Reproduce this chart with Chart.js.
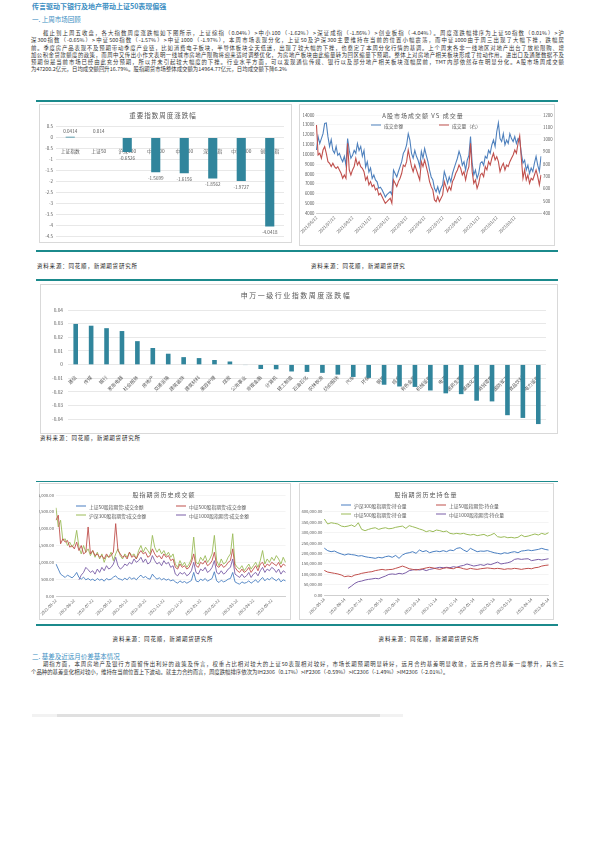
<!DOCTYPE html>
<html>
<head>
<meta charset="utf-8">
<script src="https://cdn.jsdelivr.net/npm/chart.js@4.4.0/dist/chart.umd.min.js"></script>
<style>
body{margin:0;background:#fff;font-family:"Noto Sans CJK SC","Noto Sans",sans-serif;}
#page{position:relative;width:595px;height:842px;overflow:hidden;}
.ab{position:absolute;white-space:nowrap;}
.hd{color:#3b8ec2;}
.para{position:absolute;left:31px;width:533px;font-size:5.4px;line-height:7.3px;color:#333;}
.para div{white-space:nowrap;}
.jl{text-align:justify;text-align-last:justify;}
.tl{position:absolute;left:36px;width:522px;background:#1b8a8c;}
.box{position:absolute;border:0.8px solid #d9d9d9;box-sizing:border-box;}
.ct{position:absolute;transform:translate(-50%,-50%);white-space:nowrap;color:#595959;letter-spacing:1px;}
.src{position:absolute;white-space:nowrap;font-size:5.5px;color:#222;letter-spacing:0.8px;transform:translateY(-50%);}
.lg{position:absolute;font-size:4.8px;color:#595959;white-space:nowrap;transform:translateY(-50%);display:flex;align-items:center;}
.lg i{display:inline-block;width:10px;height:1.5px;margin-right:3px;}
canvas{position:absolute;}
</style>
</head>
<body>
<div id="page">
<div class="ab hd" style="left:32px;top:1px;font-size:7px;font-weight:bold;">传言驱动下银行及地产带动上证50表现偏强</div>
<div class="ab hd" style="left:32px;top:14px;font-size:6.5px;">一. 上周市场回顾</div>

<div class="para" style="top:30px;">
<div class="jl" style="padding-left:12px;">截止到上周五收盘，各大指数周度涨跌幅如下图所示，上证综指（0.04%）>中小100（-1.62%）>深证成指（-1.86%）>创业板指（-4.04%）。周度涨跌幅排序为上证50指数（0.01%）>沪</div>
<div class="jl">深300指数（-0.65%）>中证500指数（-1.57%）>中证1000（-1.97%），本周市场表现分化，上证50及沪深300主要维持在当前的位置小幅震荡，而中证1000由于周三出现了大幅下挫，跌幅居</div>
<div class="jl">前。季度房产品表现不及预期带动季度产业链，比如消费电子板块，半导体板块全天低迷，出现了较大幅的下挫，也奠定了本周分化行情的基调。上个周末各非一线地区对地产出台了放松限购、增</div>
<div class="jl">加公积金贷款额度的政策，而周中又传出小作文表明一线城市房地产限购将迎来适时调整优化，为房地产板块由此缩量转为回区缩量下预期。整体上对房地产相关板块形成了拉动作用。进出口及通胀数据不及</div>
<div class="jl">预期但是当前市场已经由此充分预期，所以并未引起较大幅度的下挫。行业水平方面，可以发现通信传媒、银行以及部分地产相关板块涨幅居前，TMT内部依然存在明显分化。A股市场周成交额</div>
<div>为47200.2亿元，日均成交额回升16.79%。股指期货市场整体成交额为14964.77亿元，日均成交额下降6.2%</div>
</div>

<div class="tl" style="top:100px;height:1.5px;"></div>
<div class="box" style="left:39px;top:104px;width:253px;height:139px;"></div>
<div class="box" style="left:299px;top:104px;width:256px;height:142px;"></div>
<canvas id="c1" width="253" height="139" style="left:39px;top:104px;"></canvas>
<canvas id="c2" width="256" height="142" style="left:299px;top:104px;"></canvas>
<div class="ct" style="left:163px;top:115px;font-size:6.5px;">重要指数周度涨跌幅</div>
<div class="ct" style="left:423px;top:115px;font-size:6px;">A股市场成交额 VS 成交量</div>
<div class="lg" style="left:371px;top:125px;"><i style="background:#4f81bd"></i>成交金额</div>
<div class="lg" style="left:439px;top:125px;"><i style="background:#c0504d"></i>成交量（右）</div>
<div class="tl" style="top:249.5px;height:2px;"></div>
<div class="src" style="left:37px;top:266px;">资料来源：同花顺，新湖期货研究所</div>
<div class="src" style="left:311px;top:266px;">资料来源：同花顺，新湖期货研究</div>
<div class="tl" style="top:278.5px;height:2px;"></div>

<div class="box" style="left:40px;top:284px;width:518px;height:150px;"></div>
<canvas id="c3" width="518" height="150" style="left:40px;top:284px;"></canvas>
<div class="ct" style="left:296px;top:295px;font-size:7px;letter-spacing:1.5px;">申万一级行业指数周度涨跌幅</div>
<div class="src" style="left:40px;top:438px;">资料来源：同花顺，新湖期货研究所</div>

<div class="tl" style="top:480.5px;height:1.5px;"></div>
<div class="box" style="left:39px;top:483px;width:252px;height:137px;"></div>
<div class="box" style="left:299px;top:483px;width:255px;height:137px;"></div>
<canvas id="c4" width="252" height="137" style="left:39px;top:483px;"></canvas>
<canvas id="c5" width="255" height="137" style="left:299px;top:483px;"></canvas>
<div class="ct" style="left:164px;top:494px;font-size:6px;">股指期货历史成交额</div>
<div class="lg" style="left:76px;top:506px;"><i style="background:#4a7fc1"></i>上证50股指期货:成交金额</div>
<div class="lg" style="left:176px;top:506px;"><i style="background:#c0504d"></i>中证500股指期货:成交金额</div>
<div class="lg" style="left:76px;top:515px;"><i style="background:#9bbb59"></i>沪深300股指期货:成交金额</div>
<div class="lg" style="left:176px;top:515px;"><i style="background:#7b5ea7"></i>中证1000股指期货:成交金额</div>
<div class="ct" style="left:426px;top:494px;font-size:6px;">股指期货历史持仓量</div>
<div class="lg" style="left:341px;top:505px;"><i style="background:#4a7fc1"></i>沪深300股指期货:持仓量</div>
<div class="lg" style="left:436px;top:505px;"><i style="background:#c0504d"></i>上证50股指期货:持仓量</div>
<div class="lg" style="left:341px;top:514px;"><i style="background:#9bbb59"></i>中证500股指期货:持仓量</div>
<div class="lg" style="left:436px;top:514px;"><i style="background:#7b5ea7"></i>中证1000股指期货:持仓量</div>
<div class="tl" style="top:623.5px;height:2px;"></div>
<div class="src" style="left:163px;top:639px;transform:translate(-50%,-50%);">资料来源：同花顺，新湖期货研究所</div>
<div class="src" style="left:429px;top:639px;transform:translate(-50%,-50%);">资料来源：同花顺，新湖期货研究所</div>

<div class="ab hd" style="left:32px;top:651px;font-size:6.5px;">二. 基差及近远月价差基本情况</div>
<div class="para" style="top:661px;line-height:7.6px;">
<div class="jl" style="padding-left:12px;">期指方面，本周房地产及银行方面留传出利好的政策及传言，权重占比相对较大的上证50表现相对较好，市场长期预期明显转好，远月合约基差明显收敛，近远月合约基差一度攀升，其余三</div>
<div>个品种的基差变化相对较小，维持在当前位置上下波动。就主力合约而言，周度跌幅排序依次为IH2306（0.17%）>IF2306（-0.59%）>IC2306（-1.49%）>IM2306（-2.01%）。</div>
</div>
<div class="ab" style="left:32px;top:714px;width:371px;height:3px;background:#f2f2f2;"></div>
<div class="ab" style="left:57px;top:714px;width:323px;height:3px;background:#e0e0e0;"></div>
</div>

<script>
// 重要指数周度涨跌幅
var idxNames=['上证指数','上证50','沪深300','中证500','中小100','深证成指','中证1000','创业板指'];
var idxChg=[0.0414,0.014,-0.6526,-1.5699,-1.6156,-1.8562,-1.9727,-4.0418];

// 申万一级行业指数周度涨跌幅
var swNames=['通信','传媒','银行','家用电器','社会服务','房地产','交通运输','建筑装饰','建筑材料','美容护理','煤炭','公用事业','非银金融','计算机','轻工制造','石油石化','农林牧渔','纺织服饰','汽车','环保','钢铁','综合','有色金属','机械设备','电子','医药生物','基础化工','商贸零售','国防军工','食品饮料','电力设备'];
var swChg=[0.0298,0.0285,0.0267,0.0246,0.0172,0.0122,0.0080,0.0055,0.0048,0.0034,0.0023,-0.0003,-0.0032,-0.0034,-0.0050,-0.0053,-0.0060,-0.0073,-0.0090,-0.0097,-0.0147,-0.0160,-0.0163,-0.0189,-0.0210,-0.0216,-0.0264,-0.0269,-0.0370,-0.0390,-0.0435];

// A股市场成交额 VS 成交量
var aTicks=['2021/05/12','2021/07/12','2021/09/12','2021/11/12','2022/01/12','2022/03/12','2022/05/12','2022/07/12','2022/09/12','2022/11/12','2023/01/12','2023/03/12'];
var aAmount=[10440,11800,11100,11600,12100,13150,13200,11800,10800,11500,10400,10100,10800,9900,10100,9600,9250,9800,8900,11600,
10400,9600,9900,10400,10100,11100,10400,10800,9800,10400,8700,9250,8200,8600,7550,7900,7400,7200,6550,6650,
6400,6050,5650,5900,6050,6200,5900,8400,8050,7700,8250,8750,9250,10100,10400,10950,12100,11450,10100,9600,
10400,9800,9400,8750,10300,9600,10600,9900,9250,8400,7700,7400,6550,6200,6700,6050,6550,6900,8250,7700,
7050,7700,7200,8050,8600,9100,9600,10300,9800,8900,9250,8400,9400,9900,11800,9100,7900,8400,7550,8050,
9100,9250,8900,9800,9600,10400,10100,10950,11450,10800,12300,13200,11600,11300,12100,10950,11450,11100,12100,11600,
11300,11800,11100,11600,11450,10100,9100,9400,8400,8900,8050,8600,8250,9100,9800,8900,8250,9800];
var aVolume=[1119,875,888,848,915,943,888,820,807,780,807,780,766,780,753,726,685,712,685,970,
753,712,753,780,848,793,820,780,766,739,671,698,631,658,617,631,590,604,550,563,
536,509,482,495,509,522,482,671,644,617,658,685,726,793,780,820,915,848,780,739,
793,753,712,671,820,780,834,780,726,658,617,590,509,495,536,495,522,550,658,617,
577,617,590,658,685,726,753,793,766,712,739,671,739,780,970,739,644,671,604,644,
712,726,698,780,753,820,793,848,888,834,861,820,739,780,807,753,793,780,820,848,
875,915,888,970,1030,848,685,753,671,712,644,685,671,712,753,698,631,712];

// 股指期货历史成交额
var amtTicks=['2022-05-22','2022-06-22','2022-07-22','2022-08-22','2022-09-22','2022-10-22','2022-11-22','2022-12-22','2023-01-22','2023-02-22','2023-03-22','2023-04-22','2023-05-22'];
var amtIH=[950,800,650,600,550,620,580,540,600,700,550,500,560,480,520,470,500,450,520,470,500,440,520,480,500,560,600,520,
500,470,530,480,560,500,540,480,560,620,540,580,520,500,650,560,500,540,480,520,470,500,450,480,420,380,450,400,430,380,420,460,
700,450,420,500,460,520,440,480,520,720,450,400,470,420,450,500,520,700,420,380,350,420,380,400,450,380,430,480,400,480,550,
450,520,480,550,500,450,520,420,480,450];
var amtIC=[2250,2400,1550,1700,1600,1650,1450,1500,1400,1600,1350,1500,1250,1300,2050,1250,1350,1200,1250,1150,1200,1100,1250,1150,1200,1300,2150,1350,
1250,1150,1200,1100,1300,1150,1200,1100,1250,1350,1250,1300,1150,1200,1400,1250,1150,1200,1100,1250,1150,1200,1050,1100,850,800,950,850,900,800,850,1000,
1250,900,850,1000,950,1050,900,950,1050,1300,900,850,950,850,900,1000,1050,1400,850,750,700,800,700,750,850,700,800,900,750,950,1000,
850,950,900,1000,950,900,1000,850,950,900];
var amtIF=[2620,2050,2250,1650,1700,1500,1600,1450,1550,1950,1450,1250,1500,1300,1400,1200,1350,1150,1300,1100,1250,1000,1200,1150,1300,1050,1250,1400,
1200,1100,1250,1150,1300,1200,1250,1100,1350,1500,1300,1450,1350,1250,1800,1450,1300,1400,1250,1350,1200,1300,1150,1250,950,850,1050,900,1000,850,950,1100,
1750,1000,950,1150,1050,1200,1000,1100,1250,1800,1050,900,1100,950,1000,1150,1250,1850,950,850,800,900,750,850,950,800,900,1000,850,1050,1350,
950,1100,1000,1150,1050,1200,1100,950,1150,1000];
var amtIM=[null,null,null,null,null,null,null,null,null,null,480,620,700,850,780,700,750,650,800,700,850,750,900,800,850,950,1150,900,
800,850,950,900,1000,950,1100,1000,1050,1150,1000,1100,950,1000,1200,1050,950,1000,900,1050,950,1000,850,900,650,600,700,650,700,600,650,750,
1000,700,650,800,750,850,700,750,850,1050,700,650,750,650,700,800,850,1100,650,600,550,650,550,600,700,550,650,700,600,750,850,
700,800,750,850,800,700,800,650,750,700];

// 股指期货历史持仓量
var oiTicks=['2022-05-14','2022-06-14','2022-07-14','2022-08-14','2022-09-14','2022-10-14','2022-11-14','2022-12-14','2023-01-14','2023-02-14','2023-03-14','2023-04-14','2023-05-14'];
var oiIF=[225000,213000,208000,211000,203000,197000,192000,197000,194000,192000,187000,189000,184000,181000,179000,176000,181000,178000,184000,187000,
181000,190000,176000,192000,200000,203000,208000,200000,216000,208000,213000,203000,208000,211000,208000,213000,208000,216000,213000,224000,
227000,216000,208000,224000,216000,208000,211000,210000,213000,208000,203000,200000,197000,203000,200000,205000,208000,203000,211000,213000,
216000,213000,216000,219000,224000,219000,216000];
var oiIH=[118000,110000,107000,104000,101000,96000,88000,91000,88000,96000,99000,104000,107000,110000,112000,117000,120000,123000,120000,122000,
123000,128000,133000,139000,133000,126000,123000,120000,123000,126000,130000,133000,130000,126000,123000,128000,131000,128000,126000,133000,
131000,126000,123000,128000,125000,123000,126000,128000,130000,128000,126000,128000,126000,123000,126000,125000,128000,126000,123000,126000,
128000,126000,131000,133000,139000,142000,144000];
var oiIC=[365000,341000,347000,344000,341000,331000,328000,331000,336000,328000,347000,315000,309000,315000,320000,323000,315000,320000,323000,318000,
320000,325000,328000,331000,320000,333000,328000,323000,317000,312000,304000,309000,304000,312000,309000,304000,307000,296000,293000,296000,
293000,296000,291000,288000,291000,285000,288000,291000,283000,288000,296000,280000,277000,280000,275000,277000,274000,277000,288000,280000,
283000,288000,293000,288000,296000,291000,299000];
var oiIM=[null,null,null,null,null,null,null,32000,43000,56000,64000,67000,72000,75000,77000,80000,78000,85000,91000,99000,
101000,99000,104000,101000,107000,117000,120000,123000,120000,123000,117000,123000,126000,130000,133000,131000,133000,131000,136000,133000,
139000,142000,149000,144000,139000,142000,146000,142000,149000,146000,152000,158000,149000,152000,155000,160000,171000,174000,171000,173000,
174000,165000,168000,171000,168000,171000,174000];

var fam='"Noto Sans CJK SC", "Noto Sans", sans-serif';
var grey='#595959';

function spread(n,ticks,every){
  var out=[];
  for(var i=0;i<n;i++) out.push('');
  for(var k=0;k<ticks.length;k++) out[Math.round(k*every)]=ticks[k];
  return out;
}
function fmt2(v){return v.toLocaleString('en-US',{minimumFractionDigits:2,maximumFractionDigits:2});}
function round2(v){return String(Math.round(v*100)/100);}

var barLabels={
  id:'barLabels',
  afterDatasetsDraw:function(chart){
    var ctx=chart.ctx;
    var meta=chart.getDatasetMeta(0);
    var vals=chart.data.datasets[0].data;
    ctx.save();
    ctx.font='4.6px '+fam;
    ctx.fillStyle=grey;
    ctx.textAlign='center';
    ctx.textBaseline='middle';
    meta.data.forEach(function(bar,i){
      ctx.fillText(String(vals[i]),bar.x,vals[i]>=0?bar.y-6:bar.y+6);
    });
    ctx.restore();
  }
};

var ctx1=document.getElementById('c1').getContext('2d');
var chart1=new Chart(ctx1,{
  type:'bar',
  data:{labels:idxNames,datasets:[{data:idxChg,backgroundColor:'#31859c',barPercentage:0.32,categoryPercentage:1}]},
  options:{
    responsive:false,animation:false,events:[],
    layout:{padding:{top:22.7,right:8,bottom:6.3,left:0}},
    plugins:{legend:{display:false},tooltip:{enabled:false}},
    scales:{
      x:{position:{y:0},grid:{display:false},border:{display:false},
        ticks:{font:{family:fam,size:4.8},color:grey,padding:3,minRotation:0,maxRotation:0,autoSkip:false},
        afterFit:function(s){s.height=0;}},
      y:{min:-4.5,max:0.5,border:{display:false},
        grid:{color:'#d9d9d9',lineWidth:0.6,drawTicks:false},
        ticks:{stepSize:0.5,font:{family:fam,size:4.5},color:grey,padding:3,callback:round2},
        afterFit:function(s){s.width=17;}}
    }
  },
  plugins:[barLabels]
});

var ctx2=document.getElementById('c2').getContext('2d');
var chart2=new Chart(ctx2,{
  type:'line',
  data:{labels:spread(aAmount.length,aTicks,11),datasets:[
    {label:'成交金额',data:aAmount,borderColor:'#4f81bd',borderWidth:1.1,pointRadius:0,yAxisID:'y',order:1},
    {label:'成交量（右）',data:aVolume,borderColor:'#c0504d',borderWidth:1.1,pointRadius:0,yAxisID:'y1',order:0}
  ]},
  options:{
    responsive:false,animation:false,events:[],
    layout:{padding:{top:11,right:0,bottom:0,left:0}},
    plugins:{legend:{display:false},tooltip:{enabled:false}},
    scales:{
      x:{grid:{color:'rgba(0,0,0,0)',drawTicks:false},border:{display:true,color:'#bfbfbf',width:0.7},
        ticks:{font:{family:fam,size:4.2},color:grey,padding:2,minRotation:45,maxRotation:45,autoSkip:false},
        afterFit:function(s){s.height=32.7;}},
      y:{position:'left',min:4000,max:14000,border:{display:false},
        grid:{color:'#eeeeee',lineWidth:0.5,drawTicks:false},
        ticks:{stepSize:1000,font:{family:fam,size:4.3},color:grey,padding:2,callback:function(v){return String(v);}},
        afterFit:function(s){s.width=13.7;}},
      y1:{position:'right',min:400,max:1200,border:{display:false},
        grid:{display:false,drawTicks:false},
        ticks:{stepSize:100,font:{family:fam,size:4.3},color:grey,padding:2,callback:function(v){return String(v);}},
        afterFit:function(s){s.width=14;}}
    }
  }
});

var ctx3=document.getElementById('c3').getContext('2d');
var chart3=new Chart(ctx3,{
  type:'bar',
  data:{labels:swNames,datasets:[{data:swChg,backgroundColor:'#31859c',barPercentage:0.3,categoryPercentage:1}]},
  options:{
    responsive:false,animation:false,events:[],
    layout:{padding:{top:26,right:12,bottom:0.75,left:0}},
    plugins:{legend:{display:false},tooltip:{enabled:false}},
    scales:{
      x:{position:{y:0},grid:{display:false},border:{display:false},
        ticks:{font:{family:fam,size:4.8},color:grey,padding:2,minRotation:45,maxRotation:45,autoSkip:false},
        afterFit:function(s){s.height=0;}},
      y:{min:-0.045,max:0.04,border:{display:false},
        grid:{color:'#d9d9d9',lineWidth:0.6,drawTicks:false},
        ticks:{stepSize:0.01,font:{family:fam,size:4.8},color:grey,padding:5,callback:round2},
        afterBuildTicks:function(s){
          s.ticks=s.ticks.filter(function(t){var m=t.value*100;return Math.abs(m-Math.round(m))<1e-6;});
        },
        afterFit:function(s){s.width=28;}}
    }
  }
});

function lineOpts(pad,yMax,yStep,leftW){
  return {
    responsive:false,animation:false,events:[],
    layout:{padding:pad},
    plugins:{legend:{display:false},tooltip:{enabled:false}},
    scales:{
      x:{grid:{color:'rgba(0,0,0,0)',drawTicks:false},border:{display:true,color:'#bfbfbf',width:0.7},
        ticks:{font:{family:fam,size:4.1},color:grey,padding:2,minRotation:45,maxRotation:45,autoSkip:false},
        afterFit:function(s){s.height=pad.bottomAxis;}},
      y:{min:0,max:yMax,border:{display:false},
        grid:{color:'#e8e8e8',lineWidth:0.5,drawTicks:false},
        ticks:{stepSize:yStep,font:{family:fam,size:4.2},color:grey,padding:2,callback:fmt2},
        afterFit:function(s){s.width=leftW;}}
    }
  };
}

var ctx4=document.getElementById('c4').getContext('2d');
var chart4=new Chart(ctx4,{
  type:'line',
  data:{labels:spread(amtIF.length,amtTicks,7.86),datasets:[
    {label:'上证50股指期货:成交金额',data:amtIH,borderColor:'#4a7fc1',borderWidth:0.9,pointRadius:0},
    {label:'中证500股指期货:成交金额',data:amtIC,borderColor:'#c0504d',borderWidth:0.9,pointRadius:0},
    {label:'沪深300股指期货:成交金额',data:amtIF,borderColor:'#9bbb59',borderWidth:0.9,pointRadius:0},
    {label:'中证1000股指期货:成交金额',data:amtIM,borderColor:'#7b5ea7',borderWidth:0.9,pointRadius:0}
  ]},
  options:lineOpts({top:12,right:2,bottom:0,left:0,bottomAxis:24},3000,500,17)
});

var ctx5=document.getElementById('c5').getContext('2d');
var chart5=new Chart(ctx5,{
  type:'line',
  data:{labels:spread(oiIF.length,oiTicks,5.5),datasets:[
    {label:'沪深300股指期货:持仓量',data:oiIF,borderColor:'#4a7fc1',borderWidth:1,pointRadius:0},
    {label:'上证50股指期货:持仓量',data:oiIH,borderColor:'#c0504d',borderWidth:1,pointRadius:0},
    {label:'中证500股指期货:持仓量',data:oiIC,borderColor:'#9bbb59',borderWidth:1,pointRadius:0},
    {label:'中证1000股指期货:持仓量',data:oiIM,borderColor:'#7b5ea7',borderWidth:1,pointRadius:0}
  ]},
  options:lineOpts({top:28.7,right:4.7,bottom:0,left:0,bottomAxis:25},400000,50000,25.3)
});
</script>
</body>
</html>
